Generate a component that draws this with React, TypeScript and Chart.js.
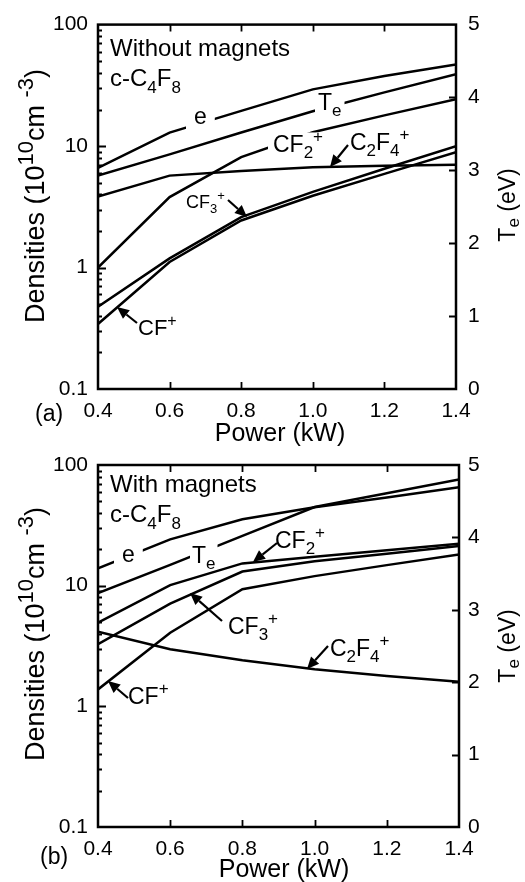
import React, { useEffect, useRef } from 'react';
import { Chart, registerables } from 'chart.js';

Chart.register(...registerables);

// ---------- data ----------
const POWER_KW = [0.4, 0.6, 0.8, 1.0, 1.2, 1.4];
const X_TICKS = [0.4, 0.6, 0.8, 1.0, 1.2, 1.4];
const DENSITY_TICKS = [0.1, 1, 10, 100];
const TE_TICKS = [0, 1, 2, 3, 4, 5];

// (a) without magnets — densities in 1e10 cm^-3, Te in eV
const A_E = [6.6, 12.9, 19.5, 29.3, 37.7, 47.0];
const A_TE = [2.93, 3.22, 3.52, 3.81, 4.07, 4.32];
const A_CF2 = [1.0, 3.8, 8.1, 13.0, 17.9, 24.3];
const A_C2F4 = [3.84, 5.71, 6.24, 6.7, 6.9, 7.03];
const A_CF3 = [0.475, 1.19, 2.6, 4.2, 6.5, 10.0];
const A_CF = [0.343, 1.11, 2.44, 3.9, 5.9, 8.9];

// (b) with magnets
const B_E = [13.9, 24.2, 35.5, 44.6, 53.8, 65.3];
const B_TE = [3.23, 3.62, 4.02, 4.42, 4.61, 4.8];
const B_CF2 = [4.93, 10.1, 15.3, 17.4, 19.7, 22.3];
const B_CF3 = [3.27, 7.1, 13.1, 15.9, 18.4, 21.3];
const B_CF = [1.38, 4.07, 9.33, 12.0, 14.8, 18.1];
const B_C2F4 = [4.15, 2.97, 2.41, 2.03, 1.78, 1.6];

const FONT = '"Liberation Sans", Arial, Helvetica, sans-serif';

type Seg = [string, 'n' | 'b' | 'p'];
type Label = { segs: Seg[]; x: number; y: number; size: number; bg?: number };
type Arrow = [number, number, number, number];

const X_TITLE: Seg[] = [['Power (kW)', 'n']];
const Y_TITLE: Seg[] = [['Densities (10', 'n'], ['10', 'p'], ['cm ', 'n'], ['-3', 'p'], [')', 'n']];
const Y1_TITLE: Seg[] = [['T', 'n'], ['e', 'b'], [' (eV)', 'n']];

const A_LABELS: Label[] = [
  { segs: [['Without magnets', 'n']], x: 110, y: 56, size: 24 },
  { segs: [['c-C', 'n'], ['4', 'b'], ['F', 'n'], ['8', 'b']], x: 110, y: 86, size: 24 },
  { segs: [['e', 'n']], x: 194, y: 124, size: 23, bg: 8 },
  { segs: [['T', 'n'], ['e', 'b']], x: 318, y: 110, size: 23, bg: 3 },
  { segs: [['CF', 'n'], ['2', 'b'], ['+', 'p']], x: 273, y: 152, size: 23, bg: 5 },
  { segs: [['C', 'n'], ['2', 'b'], ['F', 'n'], ['4', 'b'], ['+', 'p']], x: 350, y: 150, size: 23 },
  { segs: [['CF', 'n'], ['3', 'b'], ['+', 'p']], x: 186, y: 208, size: 18 },
  { segs: [['CF', 'n'], ['+', 'p']], x: 138, y: 335, size: 22 },
];
const A_ARROWS: Arrow[] = [
  [348, 145, 330, 167],
  [228, 200, 247, 217],
  [137, 323, 117, 307],
];

const B_LABELS: Label[] = [
  { segs: [['With magnets', 'n']], x: 110, y: 51, size: 24 },
  { segs: [['c-C', 'n'], ['4', 'b'], ['F', 'n'], ['8', 'b']], x: 110, y: 81, size: 24 },
  { segs: [['e', 'n']], x: 122, y: 121, size: 23, bg: 8 },
  { segs: [['T', 'n'], ['e', 'b']], x: 192, y: 122, size: 23, bg: 2 },
  { segs: [['CF', 'n'], ['2', 'b'], ['+', 'p']], x: 275, y: 107, size: 23 },
  { segs: [['CF', 'n'], ['3', 'b'], ['+', 'p']], x: 228, y: 193, size: 23 },
  { segs: [['C', 'n'], ['2', 'b'], ['F', 'n'], ['4', 'b'], ['+', 'p']], x: 330, y: 215, size: 23 },
  { segs: [['CF', 'n'], ['+', 'p']], x: 128, y: 263, size: 23 },
];
const B_ARROWS: Arrow[] = [
  [277, 102, 253, 121],
  [222, 180, 190, 152],
  [328, 205, 307, 228],
  [128, 257, 108, 240],
];

// ---------- drawing helpers ----------
function segSize(k: string, size: number, sc: number) {
  return k === 'n' ? size : Math.round(size * sc);
}
function measureRich(ctx: CanvasRenderingContext2D, segs: Seg[], size: number, sc: number) {
  let w = 0;
  for (const [t, k] of segs) {
    ctx.font = `${segSize(k, size, sc)}px ${FONT}`;
    w += ctx.measureText(t).width;
  }
  return w;
}
function drawRich(
  ctx: CanvasRenderingContext2D,
  x: number,
  y: number,
  segs: Seg[],
  size: number,
  align: 'left' | 'center' = 'left',
  bg?: number,
  sc = 0.72,
  subDy = 0.28
) {
  const w = measureRich(ctx, segs, size, sc);
  let cx = align === 'center' ? x - w / 2 : x;
  if (bg !== undefined) {
    ctx.fillStyle = '#fff';
    ctx.fillRect(cx - bg, y - size * 0.85, w + 2 * bg, size * 1.1);
  }
  ctx.fillStyle = '#000';
  ctx.textAlign = 'left';
  ctx.textBaseline = 'alphabetic';
  for (const [t, k] of segs) {
    ctx.font = `${segSize(k, size, sc)}px ${FONT}`;
    const dy = k === 'b' ? size * subDy : k === 'p' ? -size * 0.42 : 0;
    ctx.fillText(t, cx, y + dy);
    cx += ctx.measureText(t).width;
  }
}
function drawArrow(ctx: CanvasRenderingContext2D, a: Arrow) {
  const [x1, y1, x2, y2] = a;
  const ang = Math.atan2(y2 - y1, x2 - x1);
  const L = 12;
  const H = 5.5;
  const bx = x2 - L * Math.cos(ang);
  const by = y2 - L * Math.sin(ang);
  ctx.strokeStyle = '#000';
  ctx.lineWidth = 2.2;
  ctx.beginPath();
  ctx.moveTo(x1, y1);
  ctx.lineTo(bx, by);
  ctx.stroke();
  ctx.fillStyle = '#000';
  ctx.beginPath();
  ctx.moveTo(x2, y2);
  ctx.lineTo(bx + H * Math.sin(ang), by - H * Math.cos(ang));
  ctx.lineTo(bx - H * Math.sin(ang), by + H * Math.cos(ang));
  ctx.closePath();
  ctx.fill();
}

type PanelCfg = {
  height: number;
  top: number;
  leftW: number;
  rightW: number;
  bottomH: number;
  rightPad: number;
  series: number[][];
  te: number[];
  labels: Label[];
  arrows: Arrow[];
  letter: string;
  letterPos: [number, number];
  xTitlePos: [number, number];
  yTitlePos: [number, number];
  y1TitlePos: [number, number];
};

function makeDecor(cfg: PanelCfg) {
  return {
    id: 'decor',
    afterDatasetsDraw(chart: any) {
      const ctx = chart.ctx as CanvasRenderingContext2D;
      ctx.save();
      for (const l of cfg.labels) drawRich(ctx, l.x, l.y, l.segs, l.size, 'left', l.bg);
      for (const a of cfg.arrows) drawArrow(ctx, a);
      ctx.restore();
    },
    afterDraw(chart: any) {
      const ctx = chart.ctx as CanvasRenderingContext2D;
      const { left, right, top, bottom } = chart.chartArea;
      const xs = chart.scales.x;
      const ys = chart.scales.y;
      const y1 = chart.scales.y1;
      ctx.save();
      ctx.strokeStyle = '#000';
      ctx.lineWidth = 2.5;
      ctx.strokeRect(left, top, right - left, bottom - top);
      ctx.lineWidth = 1.8;
      ctx.beginPath();
      for (const v of X_TICKS.slice(1, -1)) {
        const px = Math.round(xs.getPixelForValue(v)) + 0.5;
        ctx.moveTo(px, bottom);
        ctx.lineTo(px, bottom - 7);
        ctx.moveTo(px, top);
        ctx.lineTo(px, top + 7);
      }
      for (const d of DENSITY_TICKS.slice(0, -1)) {
        for (let m = 1; m <= 9; m++) {
          const v = m * d;
          if (m === 1 && d === DENSITY_TICKS[0]) continue;
          const py = Math.round(ys.getPixelForValue(v)) + 0.5;
          ctx.moveTo(left, py);
          ctx.lineTo(left + (m === 1 ? 8 : 4), py);
        }
      }
      for (const t of TE_TICKS.slice(1, -1)) {
        const py = Math.round(y1.getPixelForValue(t)) + 0.5;
        ctx.moveTo(right, py);
        ctx.lineTo(right - 7, py);
      }
      ctx.stroke();

      drawRich(ctx, cfg.xTitlePos[0], cfg.xTitlePos[1], X_TITLE, 25, 'center');
      drawRich(ctx, cfg.letterPos[0], cfg.letterPos[1], [[cfg.letter, 'n']], 23);

      ctx.save();
      ctx.translate(cfg.yTitlePos[0], cfg.yTitlePos[1]);
      ctx.rotate(-Math.PI / 2);
      drawRich(ctx, 0, 0, Y_TITLE, 27, 'center', undefined, 0.8);
      ctx.restore();

      ctx.save();
      ctx.translate(cfg.y1TitlePos[0], cfg.y1TitlePos[1]);
      ctx.rotate(-Math.PI / 2);
      drawRich(ctx, 0, 0, Y1_TITLE, 23, 'center', undefined, 0.75, 0.18);
      ctx.restore();
      ctx.restore();
    },
  };
}

function Panel({ cfg }: { cfg: PanelCfg }) {
  const ref = useRef<HTMLCanvasElement | null>(null);
  useEffect(() => {
    if (!ref.current) return;
    const names = ['e', 'CF2+', 'C2F4+', 'CF3+', 'CF+'];
    const line = (vals: number[], axis: string, label: string) => ({
      label,
      data: POWER_KW.map((x, i) => ({ x, y: vals[i] })),
      yAxisID: axis,
      borderColor: '#000',
      borderWidth: 2.5,
      pointRadius: 0,
      fill: false,
      tension: 0,
    });
    const datasets = [
      ...cfg.series.map((s, i) => line(s, 'y', names[i])),
      line(cfg.te, 'y1', 'Te'),
    ];
    const tickFont = { family: FONT, size: 21 };
    const chart = new Chart(ref.current, {
      type: 'line',
      data: { datasets },
      plugins: [makeDecor(cfg)],
      options: {
        animation: false,
        responsive: false,
        devicePixelRatio: 1,
        layout: { padding: { top: cfg.top, left: 0, right: 0, bottom: 0 } },
        plugins: { legend: { display: false }, tooltip: { enabled: false } },
        scales: {
          x: {
            type: 'linear',
            min: 0.4,
            max: 1.4,
            grid: { display: false, drawTicks: false },
            border: { display: false },
            afterBuildTicks: (s: any) => {
              s.ticks = X_TICKS.map((v) => ({ value: v }));
            },
            afterFit: (s: any) => {
              s.height = cfg.bottomH;
            },
            ticks: {
              autoSkip: false,
              maxRotation: 0,
              padding: 10,
              color: '#000',
              font: tickFont,
              callback: (v: any) => Number(v).toFixed(1),
            },
          },
          y: {
            type: 'logarithmic',
            position: 'left',
            min: 0.1,
            max: 100,
            grid: { display: false, drawTicks: false },
            border: { display: false },
            afterBuildTicks: (s: any) => {
              s.ticks = DENSITY_TICKS.map((v) => ({ value: v }));
            },
            afterFit: (s: any) => {
              s.width = cfg.leftW;
            },
            ticks: {
              autoSkip: false,
              padding: 10,
              color: '#000',
              font: tickFont,
              callback: (v: any) => String(Number(v)),
            },
          },
          y1: {
            type: 'linear',
            position: 'right',
            min: 0,
            max: 5,
            grid: { display: false, drawTicks: false },
            border: { display: false },
            afterBuildTicks: (s: any) => {
              s.ticks = TE_TICKS.map((v) => ({ value: v }));
            },
            afterFit: (s: any) => {
              s.width = cfg.rightW;
            },
            ticks: {
              autoSkip: false,
              padding: cfg.rightPad,
              color: '#000',
              font: tickFont,
              callback: (v: any) => String(Number(v)),
            },
          },
        },
      } as any,
    });
    return () => chart.destroy();
  }, [cfg]);
  return (
    <canvas
      ref={ref}
      width={525}
      height={cfg.height}
      style={{ display: 'block', width: 525, height: cfg.height }}
    />
  );
}

const PANEL_A: PanelCfg = {
  height: 452,
  top: 23,
  leftW: 98,
  rightW: 69,
  bottomH: 452 - 389,
  rightPad: 12,
  series: [A_E, A_CF2, A_C2F4, A_CF3, A_CF],
  te: A_TE,
  labels: A_LABELS,
  arrows: A_ARROWS,
  letter: '(a)',
  letterPos: [35, 421],
  xTitlePos: [280, 441],
  yTitlePos: [44, 196],
  y1TitlePos: [515, 205],
};

const PANEL_B: PanelCfg = {
  height: 441,
  top: 24,
  leftW: 98,
  rightW: 66,
  bottomH: 441 - 386,
  rightPad: 9,
  series: [B_E, B_CF2, B_C2F4, B_CF3, B_CF],
  te: B_TE,
  labels: B_LABELS,
  arrows: B_ARROWS,
  letter: '(b)',
  letterPos: [40, 423],
  xTitlePos: [284, 436],
  yTitlePos: [44, 193],
  y1TitlePos: [515, 205],
};

export default function App() {
  return (
    <div
      style={{
        position: 'absolute',
        left: 0,
        top: 0,
        width: 525,
        height: 882,
        background: '#fff',
        overflow: 'hidden',
      }}
    >
      <div style={{ position: 'absolute', left: 0, top: 0 }}>
        <Panel cfg={PANEL_A} />
      </div>
      <div style={{ position: 'absolute', left: 0, top: 441 }}>
        <Panel cfg={PANEL_B} />
      </div>
    </div>
  );
}
